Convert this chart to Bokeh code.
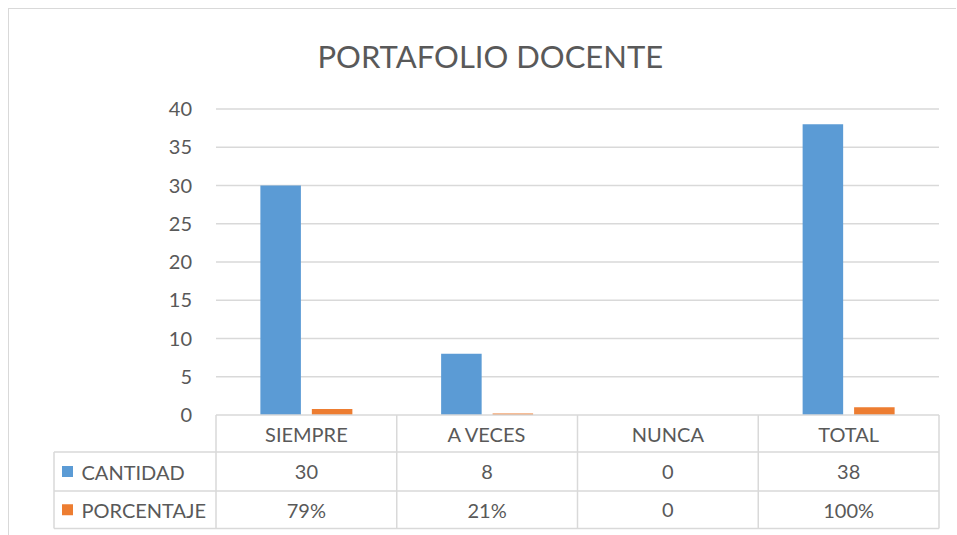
from bokeh.plotting import figure
from bokeh.models import Range1d, LinearAxis, FixedTicker, Title, ColumnDataSource
from bokeh.core.properties import value
from bokeh.embed import file_html
from bokeh.resources import INLINE

# ---- data ----
categories = ["SIEMPRE", "A VECES", "NUNCA", "TOTAL"]
cantidad = [30, 8, 0, 38]
porcentaje = [0.79, 0.21, 0.0, 1.0]
cantidad_labels = ["30", "8", "0", "38"]
porcentaje_labels = ["79%", "21%", "0", "100%"]
series_names = ["CANTIDAD", "PORCENTAJE"]
y_ticks = [0, 5, 10, 15, 20, 25, 30, 35, 40]

# ---- styling / geometry (pixels, page coordinates) ----
BLUE = "#5B9BD5"
ORANGE = "#ED7D31"
GRID = "#D9D9D9"
TEXT = "#595959"
FONT = "Lato"

PX = 180.75          # px per category
PY = 7.65            # px per y unit
ORIGIN_X = 215.5     # page x of category 0 left edge
ORIGIN_Y = 414.5     # page y of value 0
FRAME_L, FRAME_R = 52, 941
FRAME_T, FRAME_B = 88, 530
TABLE_L = 53.5
ROW_Y = [414.5, 451.5, 490.5, 528]
KEY_X = 67
NAME_X = 81
TITLE_LEFT = 317
CANVAS_X, CANVAS_Y = 9, 9   # after 8px margin + 1px border

def dx(px):
    return (px - ORIGIN_X) / PX

def dy(py):
    return (ORIGIN_Y - py) / PY

n = len(categories)
bar_w = 1 / 4.46
off = bar_w * (0.5 + 0.135)

p = figure(frame_width=FRAME_R - FRAME_L, frame_height=FRAME_B - FRAME_T,
           min_border_left=FRAME_L - CANVAS_X, min_border_right=15,
           min_border_top=FRAME_T - CANVAS_Y, min_border_bottom=5,
           x_range=Range1d(dx(FRAME_L), dx(FRAME_R)),
           y_range=Range1d(dy(FRAME_B), dy(FRAME_T)),
           x_axis_type=None, y_axis_type=None,
           output_backend="svg", toolbar_location=None, tools="")
p.outline_line_color = None
p.styles = {"margin-left": "8px", "margin-top": "8px",
            "border-top": "1px solid #D9D9D9", "border-left": "1px solid #D9D9D9"}

p.title = Title(text="PORTAFOLIO DOCENTE", align="left", text_font=FONT,
                text_font_size="31px", text_font_style="normal",
                text_color=TEXT, standoff=28, offset=TITLE_LEFT - FRAME_L)

# y axis at category origin
yaxis = LinearAxis(fixed_location=0, ticker=FixedTicker(ticks=y_ticks))
yaxis.axis_line_color = None
yaxis.major_tick_line_color = None
yaxis.minor_tick_line_color = None
yaxis.major_label_standoff = 18
yaxis.major_label_text_font = FONT
yaxis.major_label_text_font_size = "20px"
yaxis.major_label_text_color = TEXT
p.add_layout(yaxis, "left")

# gridlines (value axis), spanning the categories only
gy = [t for t in y_ticks if t > 0]
p.multi_line(xs=[[0, n] for _ in gy], ys=[[t, t] for t in gy], line_color=GRID, line_width=1.5)

# bars
xs = list(range(n))
src = ColumnDataSource(dict(xb=[i + 0.5 - off for i in xs], xo=[i + 0.5 + off for i in xs],
                            cantidad=cantidad, porcentaje=porcentaje))
p.vbar(x="xb", top="cantidad", bottom=0, width=bar_w, source=src, fill_color=BLUE, line_color=None)
p.vbar(x="xo", top="porcentaje", bottom=0, width=bar_w, source=src, fill_color=ORANGE, line_color=None)

# data table
r0, r1, r2, r3 = [dy(v) for v in ROW_Y]
tl = dx(TABLE_L)
hx0 = [0, tl, tl, tl]
hy = [r0, r1, r2, r3]
p.multi_line(xs=[[a, n] for a in hx0], ys=[[b, b] for b in hy], line_color=GRID, line_width=1.5)
vx = list(range(n + 1))
p.multi_line(xs=[[a, a] for a in vx] + [[tl, tl]],
             ys=[[r0, r3] for _ in vx] + [[r1, r3]], line_color=GRID, line_width=1.5)

cx = [i + 0.5 for i in xs]
txt_kw = dict(text_font=value(FONT), text_font_size="20px", text_color=TEXT,
              text_align="center", text_baseline="middle")
p.text(x=cx, y=[(r0 + r1) / 2] * n, text=categories, **txt_kw)
p.text(x=cx, y=[(r1 + r2) / 2] * n, text=cantidad_labels, **txt_kw)
p.text(x=cx, y=[(r2 + r3) / 2] * n, text=porcentaje_labels, **txt_kw)

row_c = [(r1 + r2) / 2, (r2 + r3) / 2]
p.scatter(x=[dx(KEY_X)] * 2, y=row_c, marker="square", size=11,
          fill_color=[BLUE, ORANGE], line_color=None)
p.text(x=[dx(NAME_X)] * 2, y=row_c, text=series_names, text_font=value(FONT),
       text_font_size="20px", text_color=TEXT, text_align="left", text_baseline="middle")

open("out.html", "w").write(file_html(p, INLINE))
